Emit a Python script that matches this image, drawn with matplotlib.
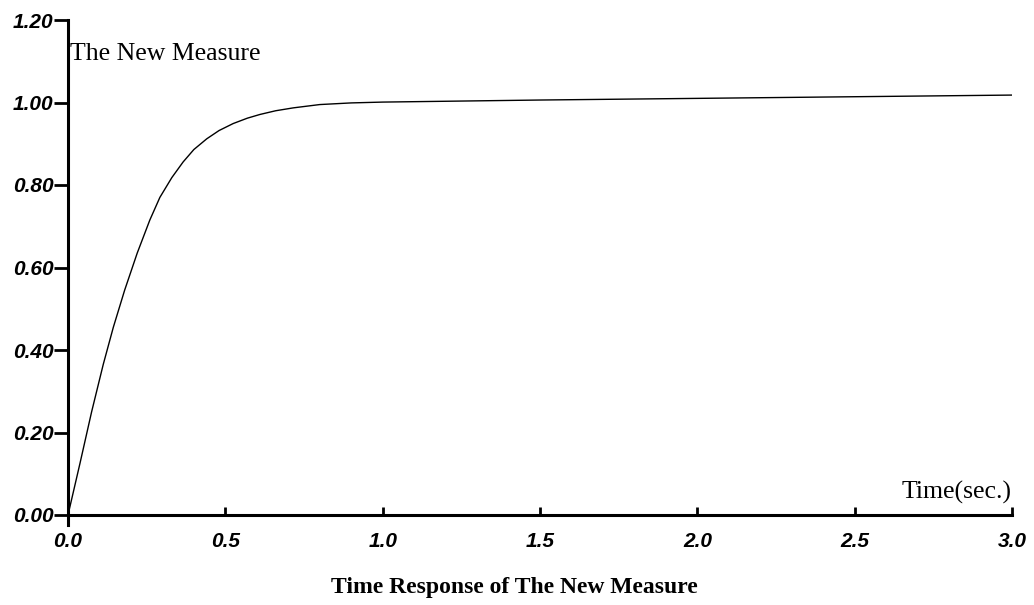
import numpy as np
import matplotlib
matplotlib.use("Agg")
import matplotlib.pyplot as plt

# step response: time (s) and measure value
t = [0.0, 0.038, 0.075, 0.112, 0.144, 0.18, 0.22, 0.26, 0.292, 0.33, 0.366,
     0.40, 0.441, 0.48, 0.525, 0.57, 0.61, 0.66, 0.716, 0.80, 0.90, 1.0,
     1.2, 1.5, 2.0, 2.5, 3.0]
y = [0.0, 0.125, 0.25, 0.365, 0.455, 0.545, 0.635, 0.715, 0.77, 0.818, 0.856,
     0.886, 0.912, 0.932, 0.949, 0.962, 0.971, 0.980, 0.987, 0.995, 0.999, 1.001,
     1.003, 1.006, 1.010, 1.014, 1.018]

xticks = [0.0, 0.5, 1.0, 1.5, 2.0, 2.5, 3.0]
yticks = [0.0, 0.2, 0.4, 0.6, 0.8, 1.0, 1.2]

serif = ["Liberation Serif", "DejaVu Serif"]
sans = ["Liberation Sans", "DejaVu Sans"]

fig = plt.figure(figsize=(10.34, 6.05), dpi=100)
ax = fig.add_axes([68 / 1034, 1 - 515 / 605, (1012 - 68) / 1034, (515 - 20) / 605])

ax.plot(t, y, color="black", lw=1.0)

ax.set_xlim(0, 3.0)
ax.set_ylim(0, 1.2)
for s in ["top", "right"]:
    ax.spines[s].set_visible(False)
for s in ["left", "bottom"]:
    ax.spines[s].set_linewidth(2.2)
ax.spines["left"].set_bounds(-0.025, 1.2)

ax.set_xticks(xticks)
ax.set_xticklabels([f"{v:.1f}" for v in xticks])
ax.set_yticks(yticks)
ax.set_yticklabels([f"{v:.2f}" for v in yticks])
ax.tick_params(axis="x", direction="in", length=6, width=2, pad=12)
ax.tick_params(axis="y", direction="out", length=10, width=2, pad=0.5)
for lab in ax.get_xticklabels() + ax.get_yticklabels():
    lab.set_family(sans)
    lab.set_fontsize(15)
    lab.set_fontweight("bold")
    lab.set_fontstyle("italic")

ax.text(0.005, 1.103, "The New Measure", family=serif, fontsize=18.5,
        ha="left", va="baseline")
ax.text(3.0, 0.039, "Time(sec.)", family=serif, fontsize=18.5,
        ha="right", va="baseline")

fig.text(514 / 1034, 1 - 588 / 605, "Time Response of The New Measure",
         family=serif, fontsize=17, fontweight="bold", ha="center", va="center")

fig.savefig("out.png", dpi=100)
